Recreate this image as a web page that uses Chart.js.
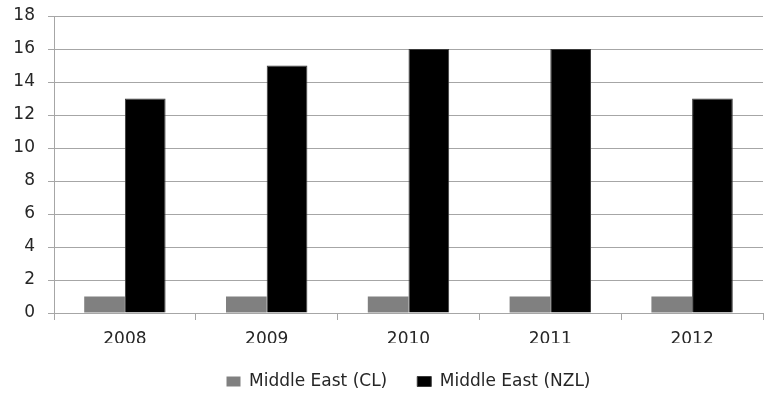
<!DOCTYPE html>
<html>
<head>
<meta charset="utf-8">
<script src="https://cdn.jsdelivr.net/npm/chart.js@4"></script>
<style>
  html, body { margin: 0; padding: 0; background: #fff; }
  #wrap { width: 764px; height: 396px; }
</style>
</head>
<body>
<div id="wrap"><canvas id="chart"></canvas></div>
<script>
const years = ["2008", "2009", "2010", "2011", "2012"];
const middleEastCL = [1, 1, 1, 1, 1];
const middleEastNZL = [13, 15, 16, 16, 13];
const yTicks = [0, 2, 4, 6, 8, 10, 12, 14, 16, 18];

const fontColor = "#262626";
const gridColor = "#a6a6a6";
const labelFont = { size: 17, family: "'DejaVu Sans', sans-serif" };

const ctx = document.getElementById("chart").getContext("2d");
new Chart(ctx, {
  type: "bar",
  data: {
    labels: years,
    datasets: [
      {
        label: "Middle East (CL)",
        data: middleEastCL,
        backgroundColor: "#808080",
        borderWidth: 0,
      },
      {
        label: "Middle East (NZL)",
        data: middleEastNZL,
        backgroundColor: "#000000",
        borderColor: "#3a3a3a",
        borderWidth: 1,
      },
    ],
  },
  options: {
    responsive: true,
    maintainAspectRatio: false,
    animation: false,
    categoryPercentage: 0.574,
    barPercentage: 1.0,
    layout: {
      autoPadding: false,
      padding: { left: 0, right: 1, top: 16, bottom: 0 },
    },
    scales: {
      y: {
        min: 0,
        max: 18,
        afterBuildTicks: (scale) => {
          scale.ticks = yTicks.map((v) => ({ value: v }));
        },
        afterFit: (scale) => {
          // fixed axis width, no extra room for the top label
          scale.width = 54;
          scale.paddingTop = 0;
          scale.paddingBottom = 0;
        },
        border: { color: gridColor, width: 1 },
        grid: { color: gridColor, tickLength: 6, lineWidth: 1 },
        ticks: { padding: 13, color: fontColor, font: labelFont },
      },
      x: {
        afterFit: (scale) => {
          scale.height = 30;
          scale.paddingLeft = 0;
          scale.paddingRight = 0;
        },
        border: { color: gridColor, width: 1 },
        grid: {
          offset: true,
          drawOnChartArea: false,
          color: gridColor,
          tickLength: 7,
        },
        ticks: { padding: 9, color: fontColor, font: labelFont },
      },
    },
    plugins: {
      legend: {
        position: "bottom",
        fullSize: false,
        maxHeight: 53,
        labels: {
          boxWidth: 14,
          boxHeight: 10,
          padding: 30,
          color: fontColor,
          font: labelFont,
        },
      },
      tooltip: { enabled: false },
    },
  },
});
</script>
</body>
</html>
